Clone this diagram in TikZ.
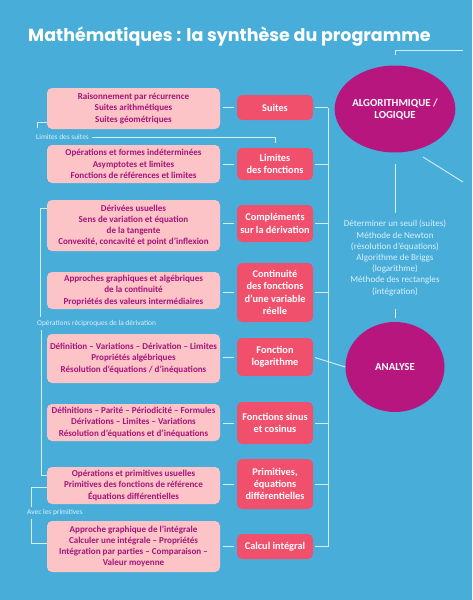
\documentclass[tikz,border=0pt]{standalone}
\usepackage{fontspec}
\setmainfont{Carlito}
\newfontfamily\titlefont{Poppins}
\usetikzlibrary{shapes.geometric}
\definecolor{bg}{RGB}{72,174,217}
\definecolor{lpink}{RGB}{252,196,199}
\definecolor{rpink}{RGB}{241,80,109}
\definecolor{magc}{RGB}{183,22,127}
\definecolor{ltxt}{RGB}{166,20,122}
\definecolor{lline}{RGB}{214,238,248}
\definecolor{soft}{RGB}{218,240,250}
\begin{document}
\begin{tikzpicture}[x=1pt,y=-1pt,
  lbox/.style={fill=lpink, rounded corners=5pt, minimum width=173pt, inner sep=0pt, align=center,
     text=ltxt, font=\fontsize{9.05}{11.2}\selectfont\bfseries},
  rbox/.style={fill=rpink, rounded corners=5pt, minimum width=76pt, inner sep=0pt, align=center,
     text=white, font=\fontsize{10.3}{12.3}\selectfont\bfseries},
  circ/.style={ellipse, fill=magc, inner sep=0pt, align=center, text=white,
     font=\fontsize{10.8}{12}\selectfont\bfseries},
  conn/.style={draw=lline, line width=0.9pt},
  lab/.style={text=soft, inner sep=0pt, font=\fontsize{7.4}{8.5}\selectfont}
]
\useasboundingbox (0,0) rectangle (472,600);
\fill[bg] (0,0) rectangle (472,600);

\node[anchor=base west, text=white, inner sep=0pt, font=\fontsize{17.5}{21}\selectfont\titlefont\bfseries] (title) at (28,41.5) {Mathématiques : la synthèse du programme};

% left boxes
\node[lbox, minimum height=41pt] (l1) at (133.5,108.5) {Raisonnement par récurrence\\Suites arithmétiques\\Suites géométriques};
\node[lbox, minimum height=38pt] (l2) at (133.5,164) {Opérations et formes indéterminées\\Asymptotes et limites\\Fonctions de références et limites};
\node[lbox, minimum height=51pt] (l3) at (133.5,225.5) {Dérivées usuelles\\Sens de variation et équation\\de la tangente\\Convexité, concavité et point d’inflexion};
\node[lbox, minimum height=37pt] (l4) at (133.5,290.5) {Approches graphiques et algébriques\\de la continuité\\Propriétés des valeurs intermédiaires};
\node[lbox, minimum height=49pt] (l5) at (133.5,358.5) {Définition – Variations – Dérivation – Limites\\Propriétés algébriques\\Résolution d’équations / d’inéquations};
\node[lbox, minimum height=37pt] (l6) at (133.5,422.5) {Définitions – Parité – Périodicité – Formules\\Dérivations – Limites – Variations\\Résolution d’équations et d’inéquations};
\node[lbox, minimum height=37pt] (l7) at (133.5,485.5) {Opérations et primitives usuelles\\Primitives des fonctions de référence\\Équations différentielles};
\node[lbox, minimum height=51pt] (l8) at (133.5,546.5) {Approche graphique de l’intégrale\\Calculer une intégrale – Propriétés\\Intégration par parties – Comparaison –\\Valeur moyenne};

% right boxes
\node[rbox, minimum height=25pt] (r1) at (275,107.5) {Suites};
\node[rbox, minimum height=32pt] (r2) at (275,164) {Limites\\des fonctions};
\node[rbox, minimum height=37pt] (r3) at (275,223.5) {Compléments\\sur la dérivation};
\node[rbox, minimum height=59pt] (r4) at (275,292.5) {Continuité\\des fonctions\\d’une variable\\réelle};
\node[rbox, minimum height=38pt] (r5) at (275,357) {Fonction\\logarithme};
\node[rbox, minimum height=42pt] (r6) at (275,423) {Fonctions sinus\\et cosinus};
\node[rbox, minimum height=50pt] (r7) at (275,484) {Primitives,\\équations\\différentielles};
\node[rbox, minimum height=25pt] (r8) at (275,546.5) {Calcul intégral};

% circles
\node[circ, minimum width=99pt, minimum height=87pt] (alg) at (395,109) {ALGORITHMIQUE /\\LOGIQUE};
\node[circ, minimum width=99pt, minimum height=90pt] (ana) at (395,367) {ANALYSE};
\node[text=soft, align=center, inner sep=0pt, font=\fontsize{9.1}{11.2}\selectfont] (algtxt) at (395,258)
  {Déterminer un seuil (suites)\\Méthode de Newton\\(résolution d’équations)\\Algorithme de Briggs\\(logarithme)\\Méthode des rectangles\\(intégration)};

% left-right connectors
\foreach \i in {1,...,8}{
  \draw[conn, shorten <=3pt, shorten >=3pt] (l\i.east |- r\i) -- (r\i.west);
}
% bus
\coordinate (busT) at (328,107.5);
\coordinate (busB) at (328,546.5);
\draw[conn] (busT) -- (busB);
\foreach \i in {1,2,3,4,6,7,8}{
  \draw[conn, shorten <=2pt] (r\i.east) -- (r\i -| busT);
}
\draw[conn, shorten <=2pt] (r5.east) -- (ana.west);

% right column connectors
\coordinate (v1a) at (395,164); \coordinate (v1b) at (395,213);
\draw[conn] (v1a) -- (v1b);
\coordinate (v2a) at (395,309); \coordinate (v2b) at (395,318);
\draw[conn] (v2a) -- (v2b);
\coordinate (d1) at (423,157); \coordinate (d2) at (463,182);
\draw[conn] (d1) -- (d2);
\coordinate (t1) at (395,55); \coordinate (t2) at (395,50); \coordinate (t3) at (463,50);
\draw[conn] (t1) -- (t2) -- (t3);

% left brackets and labels
\node[lab, anchor=west] (lab1) at (36,137) {Limites des suites};
\coordinate (h1) at (37,128);
\draw[conn] (h1) -- (h1 |- 0,122) -- (l1.west |- 0,122);
\draw[conn, shorten <=3pt, shorten >=5pt] (lab1.east) -- (lab1.east -| r2) -- (r2.north);

\node[lab, anchor=west] (lab2) at (37,324) {Opérations réciproques de la dérivation};
\coordinate (h2) at (40,317);
\draw[conn] (l3.west |- 0,208) -- (40,208) -- (h2);
\coordinate (h3) at (41,330);
\draw[conn] (h3) -- (41,475) -- (l7.west |- 0,475);

\node[lab, anchor=west] (lab3) at (27,513) {Avec les primitives};
\coordinate (h4) at (31,507);
\draw[conn] (l7.west |- 0,487) -- (31,487) -- (h4);
\coordinate (h5) at (31,519);
\draw[conn] (h5) -- (31,543) -- (l8.west |- 0,543);
\end{tikzpicture}
\end{document}
